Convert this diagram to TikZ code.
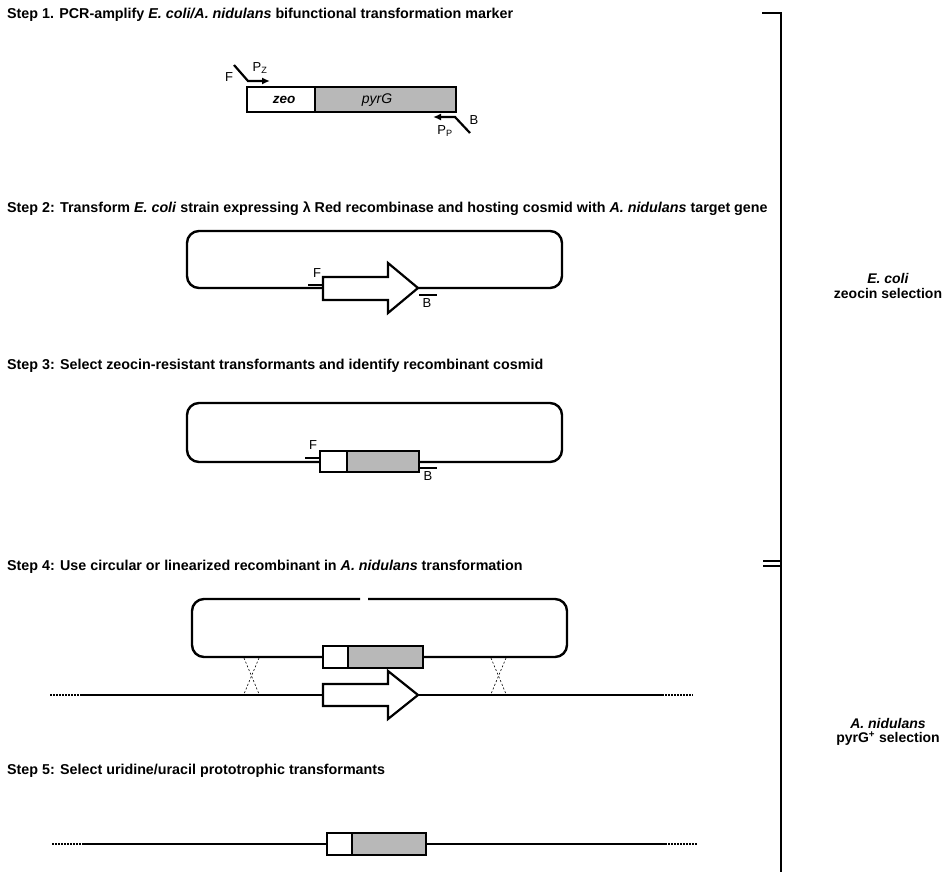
\documentclass[tikz,border=0pt]{standalone}
\usepackage{fontspec}
\setmainfont{Liberation Sans}
\usetikzlibrary{arrows.meta}
\begin{document}
\begin{tikzpicture}[x=1pt,y=-1pt,
  steptext/.style={anchor=base west, inner sep=0, font=\bfseries\fontsize{14.3}{16}\selectfont},
  sidetext/.style={align=center, inner sep=0, font=\bfseries\fontsize{14}{14.5}\selectfont},
  lbl/.style={inner sep=0, font=\fontsize{13}{14}\selectfont},
  dna/.style={line width=2.4pt},
  gene/.style={draw, line width=2.2pt, line join=miter},
  whitepart/.style={gene, fill=white},
  graypart/.style={gene, fill=black!28},
  primer/.style={line width=2.2pt, -{Latex[length=8pt,width=7pt]}},
  site/.style={line width=2.6pt},
  cross/.style={line width=0.6pt, dash pattern=on 2pt off 2pt},
  ends/.style={line width=2.2pt, dash pattern=on 1.5pt off 1.5pt},
  bracket/.style={line width=1.4pt}]
\useasboundingbox (0,0) rectangle (944,875);
\fill[white] (0,0) rectangle (944,875);

% ---------- step texts ----------
\node[steptext] (s1) at (7,19) {Step 1. PCR-amplify \textit{E. coli/A. nidulans} bifunctional transformation marker};
\node[steptext] (s2) at (7,212) {Step 2: Transform \textit{E. coli} strain expressing λ Red recombinase and hosting cosmid with \textit{A. nidulans} target gene};
\node[steptext] (s3) at (7,369) {Step 3: Select zeocin-resistant transformants and identify recombinant cosmid};
\node[steptext] (s4) at (7,570) {Step 4: Use circular or linearized recombinant in \textit{A. nidulans} transformation};
\node[steptext] (s5) at (7,774) {Step 5: Select uridine/uracil prototrophic transformants};

% ---------- step 1 ----------
\draw[whitepart] (247,87) rectangle (315,112);
\draw[graypart] (315,87) rectangle (456,112);
\node[lbl, font=\bfseries\itshape\fontsize{13.5}{14}\selectfont] (zeo) at (284,100) {zeo};
\node[lbl, font=\itshape\fontsize{14}{15}\selectfont] (pyrg) at (377,100) {pyrG};
\coordinate (fa) at (234,65);
\coordinate (fb) at (248,81);
\coordinate (fc) at (270,81);
\draw[primer] (fa) -- (fb) -- (fc);
\node[lbl] (Fl1) at (229,77) {F};
\node[lbl] (Pz) at (260,68) {P\textsubscript{Z}};
\coordinate (ba) at (470,133);
\coordinate (bb) at (455,117);
\coordinate (bc) at (433,117);
\draw[primer] (ba) -- (bb) -- (bc);
\node[lbl] (Bl1) at (474,120) {B};
\node[lbl] (Pp) at (445,131) {P\textsubscript{P}};

% ---------- step 2 ----------
\draw[dna, rounded corners=12pt] (323,288) -- (187,288) -- (187,231) -- (562,231) -- (562,288) -- (418,288);
\draw[gene, fill=white] (323,277) -- (388,277) -- (388,263) -- (418,288) -- (388,313) -- (388,300) -- (323,300) -- cycle;
\draw[site] (308,285) -- (322,285);
\node[lbl] (F2) at (317,273) {F};
\draw[site] (419,295) -- (437,295);
\node[lbl] (B2) at (427,303) {B};

% ---------- step 3 ----------
\draw[dna, rounded corners=12pt] (320,462) -- (187,462) -- (187,403) -- (562,403) -- (562,462) -- (419,462);
\draw[whitepart] (320,451) rectangle (347,472);
\draw[graypart] (347,451) rectangle (419,472);
\draw[site] (305,458) -- (319,458);
\node[lbl] (F3) at (313,445) {F};
\draw[site] (420,468) -- (437,468);
\node[lbl] (B3) at (428,476) {B};

% ---------- step 4 ----------
\draw[dna, rounded corners=12pt] (323,657) -- (192,657) -- (192,599) -- (360,599);
\draw[dna, rounded corners=12pt] (368,599) -- (567,599) -- (567,657) -- (423,657);
\draw[whitepart] (323,646) rectangle (348,668);
\draw[graypart] (348,646) rectangle (423,668);
\draw[ends] (50,695) -- (81,695);
\draw[dna] (81,695) -- (323,695);
\draw[dna] (418,695) -- (662,695);
\draw[ends] (662,695) -- (693,695);
\draw[gene, fill=white] (323,684) -- (388,684) -- (388,671) -- (418,695) -- (388,719) -- (388,706) -- (323,706) -- cycle;
\draw[cross] (244,658) -- (259,694);
\draw[cross] (259,658) -- (244,694);
\draw[cross] (491,658) -- (506,694);
\draw[cross] (506,658) -- (491,694);

% ---------- step 5 ----------
\draw[ends] (52,844) -- (84,844);
\draw[dna] (84,844) -- (327,844);
\draw[dna] (426,844) -- (665,844);
\draw[ends] (665,844) -- (697,844);
\draw[whitepart] (327,833) rectangle (352,855);
\draw[graypart] (352,833) rectangle (426,855);

% ---------- bracket ----------
\draw[bracket] (762,13) -- (781,13) -- (781,872);
\draw[bracket] (763,561) -- (781,561);
\draw[bracket] (763,566) -- (781,566);
\node[sidetext] (ec) at (888,286) {\textit{E. coli}\\zeocin selection};
\node[sidetext] (an) at (888,732) {\textit{A. nidulans}\\pyrG\textsuperscript{+} selection};
\end{tikzpicture}
\end{document}
